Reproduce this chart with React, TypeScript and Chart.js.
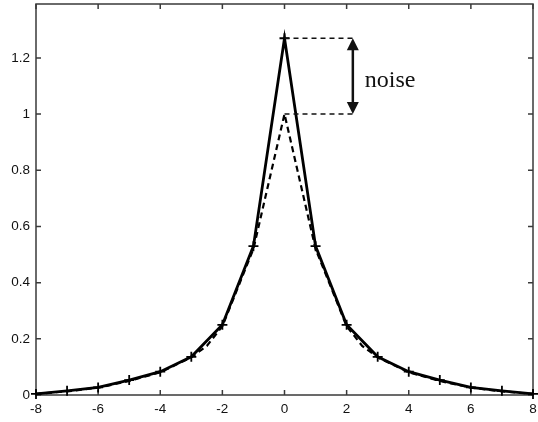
import React, { useEffect, useRef } from "react";
import { Chart, registerables } from "chart.js";

Chart.register(...registerables);

// ---- data ----
const xNoisy: number[] = [-8, -7, -6, -5, -4, -3, -2, -1, 0, 1, 2, 3, 4, 5, 6, 7, 8];
const yNoisy: number[] = [0.004, 0.015, 0.027, 0.053, 0.083, 0.136, 0.25, 0.53, 1.27, 0.53, 0.25, 0.136, 0.083, 0.053, 0.027, 0.015, 0.004];

const xClean: number[] = [-8, -7, -6, -5, -4, -3, -2.5, -2, -1, -0.75, 0, 0.75, 1, 2, 2.5, 3, 4, 5, 6, 7, 8];
const yClean: number[] = [0.004, 0.013, 0.026, 0.05, 0.081, 0.134, 0.175, 0.245, 0.52, 0.64, 1.0, 0.64, 0.52, 0.245, 0.175, 0.134, 0.081, 0.05, 0.026, 0.013, 0.004];

const xTicks: number[] = [-8, -6, -4, -2, 0, 2, 4, 6, 8];
const yTicks: number[] = [0, 0.2, 0.4, 0.6, 0.8, 1, 1.2];

const NOISE_LABEL = "noise";
const NOISE_X = 2.2;
const NOISE_TOP = 1.27;
const NOISE_BOTTOM = 1.0;

const X_MIN = -8;
const X_MAX = 8;
const Y_MIN = 0;
const Y_MAX = 1.392;

const framePlugin = {
  id: "matlabFrame",
  beforeDatasetsDraw(chart: any) {
    const { ctx, chartArea } = chart;
    const { left, right, top, bottom } = chartArea;
    const xs = chart.scales.x;
    const ys = chart.scales.y;
    ctx.save();
    ctx.strokeStyle = "#3a3a3a";
    ctx.lineWidth = 1.5;
    ctx.strokeRect(left, top, right - left, bottom - top);
    const tl = 5;
    ctx.beginPath();
    xTicks.forEach((v) => {
      const px = xs.getPixelForValue(v);
      ctx.moveTo(px, bottom);
      ctx.lineTo(px, bottom - tl);
      ctx.moveTo(px, top);
      ctx.lineTo(px, top + tl);
    });
    yTicks.forEach((v) => {
      const py = ys.getPixelForValue(v);
      ctx.moveTo(left, py);
      ctx.lineTo(left + tl, py);
      ctx.moveTo(right, py);
      ctx.lineTo(right - tl, py);
    });
    ctx.stroke();
    ctx.restore();
  },
  afterDatasetsDraw(chart: any) {
    const { ctx } = chart;
    const xs = chart.scales.x;
    const ys = chart.scales.y;
    const x0 = xs.getPixelForValue(0);
    const xa = xs.getPixelForValue(NOISE_X);
    const yT = ys.getPixelForValue(NOISE_TOP);
    const yB = ys.getPixelForValue(NOISE_BOTTOM);
    ctx.save();
    ctx.strokeStyle = "#111";
    ctx.lineWidth = 1.5;
    ctx.setLineDash([5, 4]);
    ctx.beginPath();
    ctx.moveTo(x0, yT);
    ctx.lineTo(xa, yT);
    ctx.moveTo(x0, yB);
    ctx.lineTo(xa, yB);
    ctx.stroke();
    ctx.setLineDash([]);
    const headL = 12;
    const headW = 6;
    ctx.lineWidth = 2.5;
    ctx.beginPath();
    ctx.moveTo(xa, yT + headL - 1);
    ctx.lineTo(xa, yB - headL + 1);
    ctx.stroke();
    ctx.fillStyle = "#111";
    ctx.beginPath();
    ctx.moveTo(xa, yT);
    ctx.lineTo(xa - headW, yT + headL);
    ctx.lineTo(xa + headW, yT + headL);
    ctx.closePath();
    ctx.fill();
    ctx.beginPath();
    ctx.moveTo(xa, yB);
    ctx.lineTo(xa - headW, yB - headL);
    ctx.lineTo(xa + headW, yB - headL);
    ctx.closePath();
    ctx.fill();
    ctx.font = '24px "Liberation Serif", "Times New Roman", serif';
    ctx.textAlign = "left";
    ctx.textBaseline = "alphabetic";
    ctx.fillText(NOISE_LABEL, xa + 12, (yT + yB) / 2 + 11);
    ctx.restore();
  },
};

export default function App() {
  const ref = useRef<HTMLCanvasElement | null>(null);
  useEffect(() => {
    document.body.style.margin = "0";
    const canvas = ref.current;
    if (!canvas) return;
    const fmt = (v: any) => {
      const n = Math.round(Number(v) * 10) / 10;
      return String(n);
    };
    const chart = new Chart(canvas, {
      type: "line",
      data: {
        datasets: [
          {
            label: "noisy",
            data: xNoisy.map((x, i) => ({ x, y: yNoisy[i] })),
            borderColor: "#000",
            backgroundColor: "#000",
            borderWidth: 2.8,
            pointStyle: "cross",
            pointRadius: 5,
            pointBorderWidth: 1.8,
            pointBorderColor: "#000",
            tension: 0,
            clip: false as any,
          },
          {
            label: "clean",
            data: xClean.map((x, i) => ({ x, y: yClean[i] })),
            borderColor: "#000",
            borderWidth: 2.2,
            borderDash: [6, 4],
            pointRadius: 0,
            tension: 0,
            clip: false as any,
          },
        ],
      },
      options: {
        animation: false,
        responsive: false,
        events: [],
        layout: { autoPadding: false, padding: { left: 0, top: 4, right: 5, bottom: 0 } },
        plugins: { legend: { display: false }, tooltip: { enabled: false } },
        scales: {
          x: {
            type: "linear",
            min: X_MIN,
            max: X_MAX,
            afterFit: (s: any) => {
              s.height = 27;
              s.paddingLeft = 0;
              s.paddingRight = 0;
            },
            afterBuildTicks: (s: any) => {
              s.ticks = xTicks.map((v) => ({ value: v }));
            },
            grid: { display: false, drawTicks: false },
            border: { display: false },
            ticks: {
              padding: 6,
              color: "#111",
              font: { family: '"Liberation Sans", Arial, sans-serif', size: 13.5 },
              maxRotation: 0,
              autoSkip: false,
              callback: fmt,
            },
          },
          y: {
            type: "linear",
            min: Y_MIN,
            max: Y_MAX,
            afterFit: (s: any) => {
              s.width = 36;
              s.paddingTop = 0;
              s.paddingBottom = 0;
            },
            afterBuildTicks: (s: any) => {
              s.ticks = yTicks.map((v) => ({ value: v }));
            },
            grid: { display: false, drawTicks: false },
            border: { display: false },
            ticks: {
              padding: 6,
              color: "#111",
              font: { family: '"Liberation Sans", Arial, sans-serif', size: 13.5 },
              autoSkip: false,
              callback: fmt,
            },
          },
        },
      },
      plugins: [framePlugin],
    });
    return () => chart.destroy();
  }, []);
  return (
    <div style={{ width: 538, height: 422, background: "#fff" }}>
      <canvas ref={ref} width={538} height={422} style={{ display: "block" }} />
    </div>
  );
}
